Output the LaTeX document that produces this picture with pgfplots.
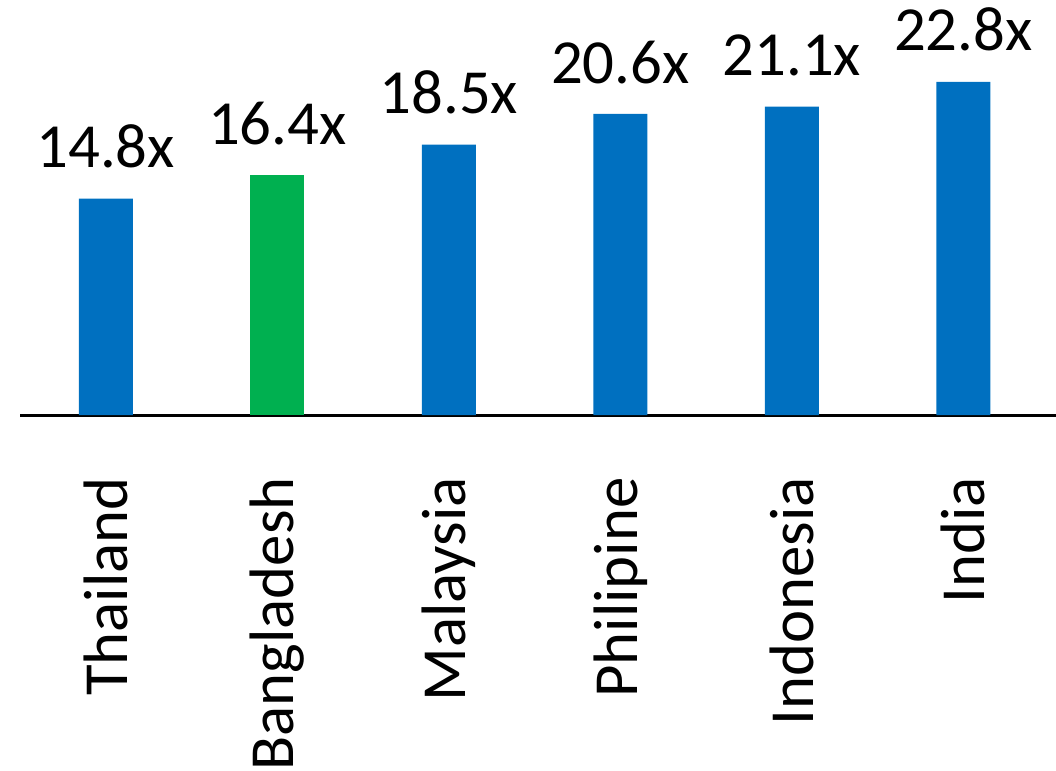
\documentclass[border=0pt]{standalone}
\usepackage{pgfplots}
\pgfplotsset{compat=1.18}
\usepackage{fontspec}
\setmainfont{Carlito}
\definecolor{barblue}{RGB}{0,112,192}
\definecolor{bargreen}{RGB}{0,176,80}
\begin{document}
\begin{tikzpicture}
\useasboundingbox (0,0) rectangle (528bp,385.5bp);
\begin{axis}[
  at={(10bp,178bp)}, anchor=south west,
  scale only axis, width=518bp, height=207.5bp,
  xmin=-0.5, xmax=5.54, ymin=0, ymax=28.4,
  axis x line*=bottom, axis y line=none,
  x axis line style={line width=1.5bp, black},
  xtick={0,1,2,3,4,5},
  xticklabels={Thailand,Bangladesh,Malaysia,Philipine,Indonesia,India},
  major tick length=0pt,
  ytick=\empty,
  xticklabel style={rotate=90, anchor=east, inner sep=0pt, font=\fontsize{31.5}{37}\selectfont},
  xticklabel shift=31bp,
  clip=false,
  ybar, bar width=27bp,
  point meta=explicit symbolic,
  nodes near coords,
  every node near coord/.append style={anchor=south, inner sep=0pt, yshift=15bp, font=\fontsize{31.5}{37}\selectfont, text=black},
]
\addplot[fill=barblue, draw=none, bar shift=0pt] coordinates {
  (0,14.8)[14.8x] (2,18.5)[18.5x] (3,20.6)[20.6x] (4,21.1)[21.1x] (5,22.8)[22.8x]
};
\addplot[fill=bargreen, draw=none, bar shift=0pt] coordinates {
  (1,16.4)[16.4x]
};
\end{axis}
\end{tikzpicture}
\end{document}
